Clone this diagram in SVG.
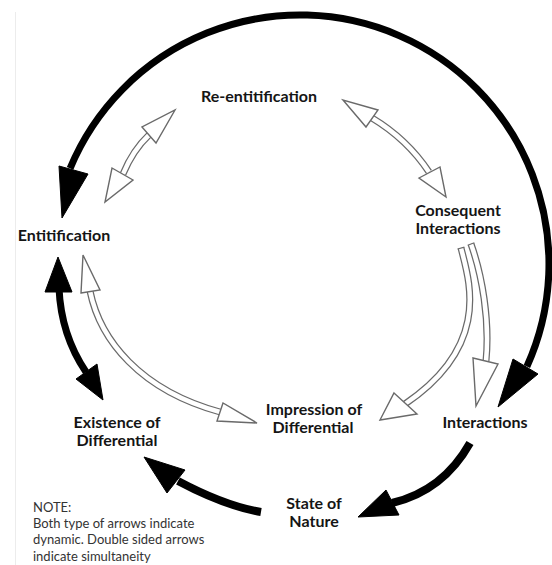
<svg xmlns="http://www.w3.org/2000/svg" width="552" height="565" viewBox="0 0 552 565">
  <style>
    .label { font-family: Lato, "Liberation Sans", sans-serif; font-weight: bold; font-size: 16px; fill: #151515; text-anchor: middle; }
    .note { font-family: Lato, "Liberation Sans", sans-serif; font-size: 13px; fill: #333; }
    .solid { fill: none; stroke: #000; stroke-linecap: butt; }
    .head { fill: #000; stroke: #000; stroke-width: 1; stroke-linejoin: round; }
    .hollow-out { fill: none; stroke: #6a6a6a; stroke-width: 7; }
    .hollow-in { fill: none; stroke: #fff; stroke-width: 4.5; }
    .hhead { fill: #fff; stroke: #6a6a6a; stroke-width: 1.4; stroke-linejoin: miter; }
  </style>
  <rect width="552" height="565" fill="#fff"/>
  <line x1="15.5" y1="12" x2="15.5" y2="565" stroke="#ececec" stroke-width="1"/>

  <g id="connectors">
    <!-- outer cycle: Entitification <-> Interactions -->
    <path class="solid" stroke-width="7" d="M 70.1 168.3 A 249 249 0 1 1 526.9 366.5"/>
    <polygon class="head" points="59,166 88,174 62,218"/>
    <polygon class="head" points="513,359 538,374 498,407"/>

    <!-- Interactions -> State of Nature -->
    <path class="solid" stroke-width="8" d="M 470 443 Q 443 491 392 503"/>
    <polygon class="head" points="386,490 399,515 358,517"/>

    <!-- State of Nature -> Existence of Differential -->
    <path class="solid" stroke-width="8" d="M 261 512 Q 225 506 178 481"/>
    <polygon class="head" points="185,470 167,493 144,457"/>

    <!-- Entitification <-> Existence of Differential -->
    <path class="solid" stroke-width="7" d="M 59 288 Q 61 335 86 372"/>
    <polygon class="head" points="45,292 72,292 58,257"/>
    <polygon class="head" points="76,379 97,364 103,400"/>

    <!-- Re-entitification <-> Entitification -->
    <path class="hollow-out" d="M 149 135 Q 133 150 123 174"/>
    <path class="hollow-in" d="M 149 135 Q 133 150 123 174"/>
    <polygon class="hhead" points="142,127 156,143 175,110"/>
    <polygon class="hhead" points="112,168 133,180 105,202"/>

    <!-- Re-entitification <-> Consequent Interactions -->
    <path class="hollow-out" d="M 372 118 Q 407 139 429 172"/>
    <path class="hollow-in" d="M 372 118 Q 407 139 429 172"/>
    <polygon class="hhead" points="366,127 378,110 343,100"/>
    <polygon class="hhead" points="419,178 440,167 446,197"/>

    <!-- Consequent Interactions -> Impression of Differential -->
    <path class="hollow-out" d="M 461 248 C 469 280, 492 345, 405 404"/>
    <path class="hollow-in" d="M 461 248 C 469 280, 492 345, 405 404"/>
    <line x1="457.6" y1="249" x2="464.4" y2="247.2" stroke="#6a6a6a" stroke-width="1.2"/>
    <polygon class="hhead" points="394,393 417,414 380,420"/>

    <!-- Consequent Interactions -> Interactions -->
    <path class="hollow-out" d="M 471 244 C 482 275, 490 320, 486 361"/>
    <path class="hollow-in" d="M 471 244 C 482 275, 490 320, 486 361"/>
    <line x1="467.7" y1="245.2" x2="474.3" y2="242.8" stroke="#6a6a6a" stroke-width="1.2"/>
    <polygon class="hhead" points="473,358 498,364 476,406"/>

    <!-- Entitification <-> Impression of Differential -->
    <path class="hollow-out" d="M 90 291 C 100 340, 140 390, 220 412"/>
    <path class="hollow-in" d="M 90 291 C 100 340, 140 390, 220 412"/>
    <polygon class="hhead" points="81,293 100,290 83,255"/>
    <polygon class="hhead" points="223,403 217,421 257,423"/>
  </g>

  <g id="node-reentitification">
    <text class="label" x="259" y="102">Re-entitification</text>
  </g>
  <g id="node-entitification">
    <text class="label" x="64" y="241">Entitification</text>
  </g>
  <g id="node-consequent-interactions">
    <text class="label" x="458" y="216">Consequent</text>
    <text class="label" x="458" y="234">Interactions</text>
  </g>
  <g id="node-interactions">
    <text class="label" x="485" y="428">Interactions</text>
  </g>
  <g id="node-impression">
    <text class="label" x="314" y="415">Impression of</text>
    <text class="label" x="313" y="433">Differential</text>
  </g>
  <g id="node-existence">
    <text class="label" x="117" y="428">Existence of</text>
    <text class="label" x="117" y="446">Differential</text>
  </g>
  <g id="node-state-of-nature">
    <text class="label" x="314" y="509">State of</text>
    <text class="label" x="314" y="527">Nature</text>
  </g>
  <g id="note">
    <text class="note" x="33" y="512">NOTE:</text>
    <text class="note" x="33" y="528">Both type of arrows indicate</text>
    <text class="note" x="33" y="544">dynamic. Double sided arrows</text>
    <text class="note" x="33" y="561">indicate simultaneity</text>
  </g>
</svg>
